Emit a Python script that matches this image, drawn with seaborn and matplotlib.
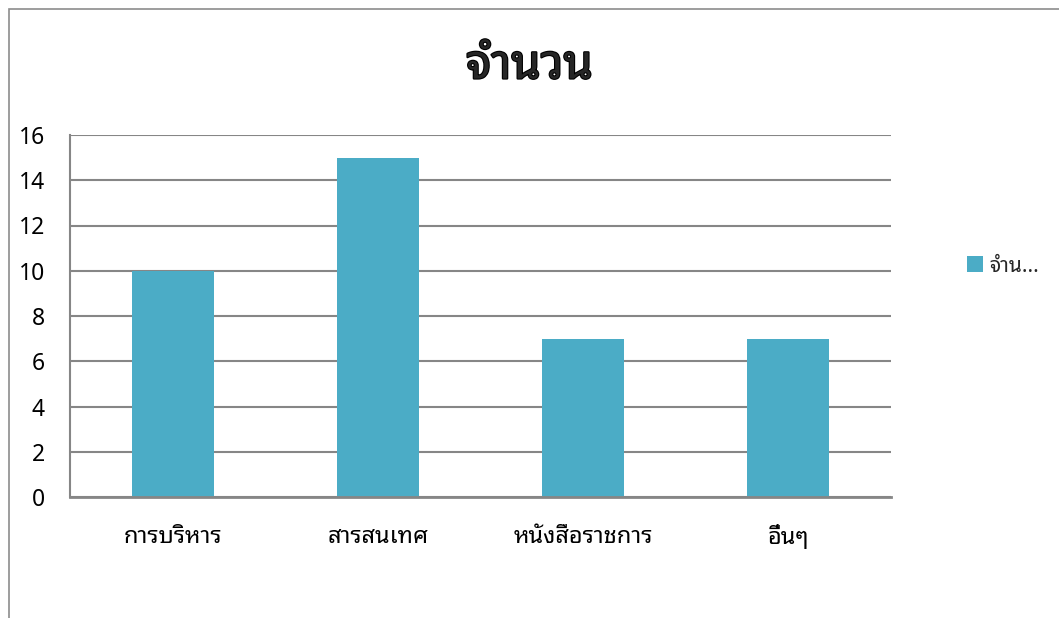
import numpy as np
import pandas as pd
import matplotlib
matplotlib.use('Agg')
import matplotlib.pyplot as plt
import seaborn as sns
from matplotlib import font_manager
from matplotlib.ft2font import FT2Font
from matplotlib.patches import Rectangle, Patch
import matplotlib.patheffects as pe

# data
categories = ['การบริหาร', 'สารสนเทศ', 'หนังสือราชการ', 'อื่นๆ']
values = [10, 15, 7, 7]
series_name = 'จำนวน'
legend_label = 'จำน...'

# find a font that has thai glyphs
thai_font = None
for f in font_manager.fontManager.ttflist:
    try:
        ft = FT2Font(f.fname)
        if ft.get_char_index(ord('จ')) != 0 and ft.get_char_index(ord('ำ')) != 0:
            thai_font = f.name
            if 'Noto' in f.name or 'Tahoma' in f.name:
                break
    except Exception:
        pass

sns.set_style('white')
fams = ([thai_font] if thai_font else []) + ['Noto Sans', 'DejaVu Sans']
plt.rcParams['font.family'] = fams

df = pd.DataFrame({'category': categories, 'value': values})

fig = plt.figure(figsize=(10.59, 6.18), dpi=100)
ax = fig.add_axes([70/1059, 1-497/618, 821/1059, 362/618])

sns.barplot(data=df, x='category', y='value', color='#4BACC6', width=0.4,
            saturation=1, linewidth=0, ax=ax)

ax.set_ylim(0, 16)
ax.set_xlim(-0.5, 3.5)
ax.set_yticks(np.arange(0, 17, 2))
ax.yaxis.grid(True, color='#868686', linewidth=1.5)
ax.set_axisbelow(True)
for s in ['top', 'right']:
    ax.spines[s].set_visible(False)
ax.spines['left'].set_color('#868686')
ax.spines['left'].set_linewidth(1.5)
ax.spines['bottom'].set_color('#868686')
ax.spines['bottom'].set_linewidth(2)
ax.tick_params(axis='y', length=0, pad=18, labelsize=16.5, labelcolor='black')
ax.tick_params(axis='x', length=0, pad=20, labelsize=17, labelcolor='black')
ax.set_xlabel('')
ax.set_ylabel('')

fig.text(0.5, 1-66/618, series_name, ha='center', va='center',
         fontsize=34, fontweight='bold',
         path_effects=[pe.withStroke(linewidth=1.6, foreground='black')])

handle = Patch(facecolor='#4BACC6', edgecolor='none')
fig.legend([handle], [legend_label], loc='center left',
           bbox_to_anchor=(948/1059, 1-266/618), frameon=False,
           fontsize=15, handlelength=0.8, handleheight=0.8,
           handletextpad=0.3)

# outer chart border
fig.patches.append(Rectangle((9/1059, -0.1), 1.2, 1.1 - 9/618,
                             transform=fig.transFigure, fill=False,
                             edgecolor='#8c8c8c', linewidth=1.2))

fig.savefig('out.png', dpi=100)
